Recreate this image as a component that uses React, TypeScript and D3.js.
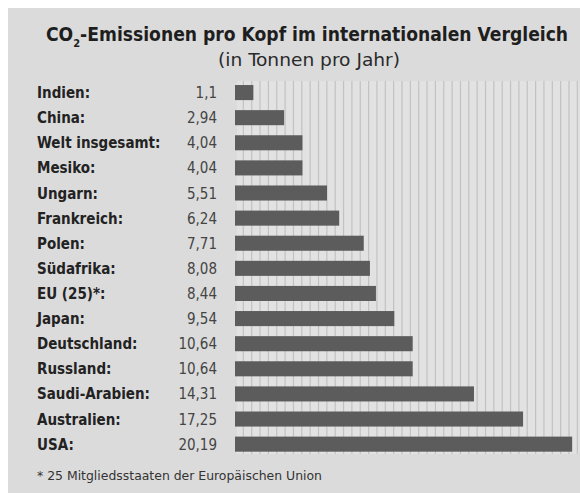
import React from "react";
import * as d3 from "d3";

const countries = [
  "Indien:", "China:", "Welt insgesamt:", "Mesiko:", "Ungarn:", "Frankreich:", "Polen:",
  "Südafrika:", "EU (25)*:", "Japan:", "Deutschland:", "Russland:", "Saudi-Arabien:", "Australien:", "USA:",
];
const values = [1.1, 2.94, 4.04, 4.04, 5.51, 6.24, 7.71, 8.08, 8.44, 9.54, 10.64, 10.64, 14.31, 17.25, 20.19];
const valueLabels = ["1,1", "2,94", "4,04", "4,04", "5,51", "6,24", "7,71", "8,08", "8,44", "9,54", "10,64", "10,64", "14,31", "17,25", "20,19"];
const titleMain = "CO";
const titleSub = "2";
const titleRest = "-Emissionen pro Kopf im internationalen Vergleich";
const subtitle = "(in Tonnen pro Jahr)";
const footnote = "* 25 Mitgliedsstaaten der Europäischen Union";

const W = 580;
const H = 493;
const FONT = "'DejaVu Sans Condensed', 'Liberation Sans Narrow', 'DejaVu Sans', sans-serif";

export default function App() {
  const x = d3.scaleLinear().domain([0, 20.5]).range([235, 235 + 20.5 * 16.7]);
  const y = d3.scaleBand<string>().domain(countries).range([80, 456.7]).paddingInner(0.4).paddingOuter(0.2);
  const gridTicks = d3.range(0.5, 20.51, 0.5);
  const gridTop = 81;
  const gridBottom = 454;

  return (
    <svg width={W} height={H} style={{ position: "absolute", left: 0, top: 0 }}>
      <rect x={0} y={0} width={W} height={H} fill="#ffffff" />
      <rect x={8} y={8} width={W - 8} height={H - 8} fill="#dbdbdb" />
      <rect x={x(0) + 2} y={gridTop} width={x(20.5) - x(0)} height={gridBottom - gridTop} fill="#e2e2e2" />
      {gridTicks.map((t) => (
        <line key={t} x1={x(t)} x2={x(t)} y1={gridTop} y2={gridBottom} stroke="#c2c2c2" strokeWidth={1.2} />
      ))}
      <g fontFamily={FONT}>
        <text x={46} y={41} fontSize={19.1} fontWeight="bold" fill="#1e1e1e">
          {titleMain}
          <tspan dy={6} fontSize={11}>{titleSub}</tspan>
          <tspan dy={-6}>{titleRest}</tspan>
        </text>
        <text x={218} y={66} fontSize={17} fill="#2a2a2a" textLength={182} lengthAdjust="spacingAndGlyphs">
          {subtitle}
        </text>
        {countries.map((c, i) => {
          const cy = (y(c) as number) + y.bandwidth() / 2;
          return (
            <g key={c}>
              <rect x={x(0)} y={y(c)} width={x(values[i]) - x(0)} height={y.bandwidth()} fill="#5c5c5c" />
              <text x={37} y={cy + 5.5} fontSize={15} fontWeight="bold" fill="#222">
                {c}
              </text>
              <text x={217} y={cy + 5.5} fontSize={15} fill="#444" textAnchor="end">
                {valueLabels[i]}
              </text>
            </g>
          );
        })}
        <text x={37} y={480} fontSize={12} fill="#333" textLength={285} lengthAdjust="spacingAndGlyphs">
          {footnote}
        </text>
      </g>
    </svg>
  );
}
